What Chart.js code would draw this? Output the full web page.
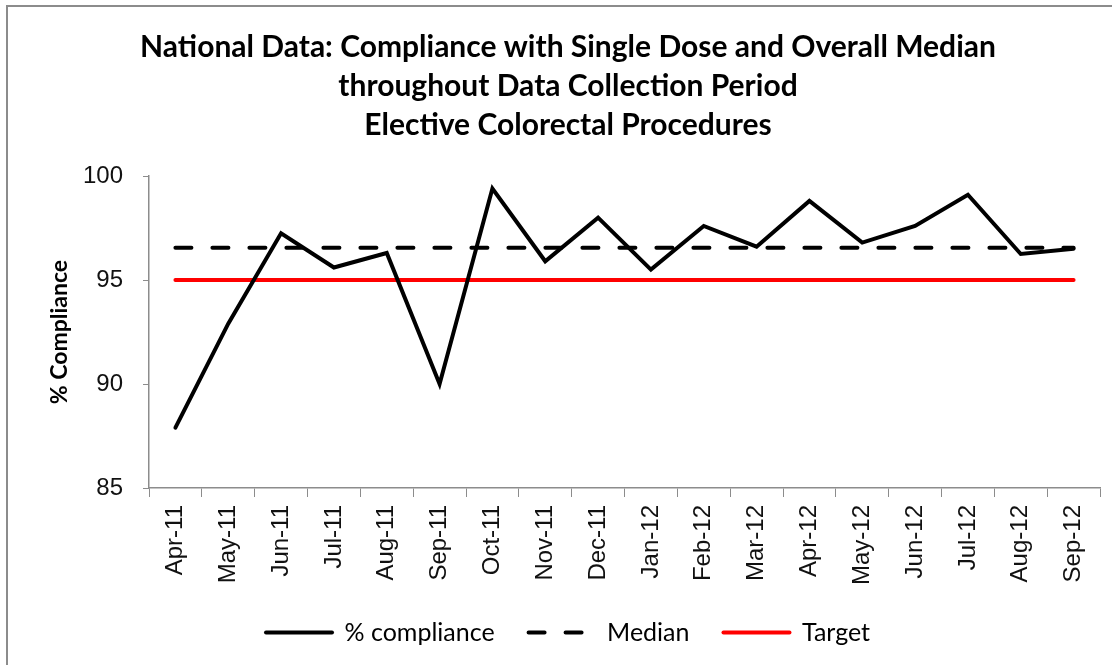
<!DOCTYPE html>
<html>
<head>
<meta charset="utf-8">
<script src="https://cdn.jsdelivr.net/npm/chart.js@4.4.0/dist/chart.umd.min.js"></script>
<style>
  html, body { margin: 0; padding: 0; background: #fff; overflow: hidden; }
  #wrap { position: relative; width: 1112px; height: 665px; overflow: hidden; }
  #frame {
    position: absolute; left: 6px; top: 5px; width: 1200px; height: 800px;
    border: 2px solid #8c8c8c; box-sizing: border-box; pointer-events: none;
  }
  canvas { position: absolute; left: 0; top: 0; }
</style>
</head>
<body>
<div id="wrap">
  <canvas id="chart" width="1112" height="665"></canvas>
  <div id="frame"></div>
</div>
<script>
const months = ["Apr-11", "May-11", "Jun-11", "Jul-11", "Aug-11", "Sep-11", "Oct-11", "Nov-11", "Dec-11",
  "Jan-12", "Feb-12", "Mar-12", "Apr-12", "May-12", "Jun-12", "Jul-12", "Aug-12", "Sep-12"];
const compliance = [87.9, 92.9, 97.25, 95.6, 96.3, 90.0, 99.4, 95.9, 98.0,
  95.5, 97.6, 96.6, 98.8, 96.8, 97.6, 99.1, 96.25, 96.5];
const median = [96.55, 96.55, 96.55, 96.55, 96.55, 96.55, 96.55, 96.55, 96.55,
  96.55, 96.55, 96.55, 96.55, 96.55, 96.55, 96.55, 96.55, 96.55];
const target = [95, 95, 95, 95, 95, 95, 95, 95, 95, 95, 95, 95, 95, 95, 95, 95, 95, 95];
const yTicks = [85, 90, 95, 100];

const axisColor = "#8c8c8c";

new Chart(document.getElementById("chart"), {
  type: "line",
  data: {
    labels: months,
    datasets: [
      {
        label: "% compliance",
        data: compliance,
        borderColor: "#000",
        borderWidth: 4,
        pointRadius: 0,
        tension: 0,
        borderJoinStyle: "miter",
        borderCapStyle: "round",
      },
      {
        label: "Median",
        data: median,
        borderColor: "#000",
        borderWidth: 4,
        borderDash: [16, 21],
        borderCapStyle: "round",
        pointRadius: 0,
      },
      {
        label: "Target",
        data: target,
        borderColor: "#ff0000",
        borderWidth: 4,
        borderCapStyle: "round",
        pointRadius: 0,
      },
    ],
  },
  options: {
    responsive: false,
    animation: false,
    layout: { padding: { left: 36, right: 12, top: 0, bottom: 10 } },
    plugins: {
      tooltip: { enabled: false },
      title: {
        display: true,
        text: [
          "National Data: Compliance with Single Dose and Overall Median",
          "throughout Data Collection Period",
          "Elective Colorectal Procedures",
        ],
        color: "#000",
        font: { family: "Lato", size: 30, weight: "bold", lineHeight: 1.3 },
        padding: { top: 28, bottom: 31 },
      },
      legend: {
        position: "bottom",
        labels: {
          usePointStyle: true,
          pointStyle: "line",
          pointStyleWidth: 66,
          color: "#000",
          padding: 34,
          font: { family: "Lato", size: 25 },
          generateLabels: (chart) => {
            const items = Chart.defaults.plugins.legend.labels.generateLabels(chart);
            items.forEach((item) => {
              const ds = chart.data.datasets[item.datasetIndex];
              item.lineDash = ds.borderDash || [];
              item.lineCap = ds.borderCapStyle || "butt";
              item.lineWidth = ds.borderWidth;
              item.strokeStyle = ds.borderColor;
            });
            return items;
          },
        },
      },
    },
    scales: {
      x: {
        offset: true,
        border: { color: axisColor, width: 1.5 },
        grid: { offset: true, drawOnChartArea: false, color: axisColor, tickLength: 9 },
        ticks: {
          color: "#111",
          minRotation: 90,
          maxRotation: 90,
          autoSkip: false,
          padding: 8,
          font: { family: "Liberation Sans", size: 24 },
        },
        afterFit: (scale) => { scale.height = 98; },
      },
      y: {
        min: 85,
        max: 100,
        afterBuildTicks: (scale) => { scale.ticks = yTicks.map((v) => ({ value: v })); },
        border: { color: axisColor, width: 1.5 },
        grid: { drawOnChartArea: false, color: axisColor, tickLength: 6 },
        ticks: {
          color: "#111",
          padding: 20,
          font: { family: "Liberation Sans", size: 24 },
        },
        title: {
          display: true,
          text: "% Compliance",
          color: "#000",
          font: { family: "Lato", size: 23, weight: "bold" },
          padding: { top: 10, bottom: 0 },
        },
        afterFit: (scale) => { scale.width = 113; },
      },
    },
  },
});
</script>
</body>
</html>
